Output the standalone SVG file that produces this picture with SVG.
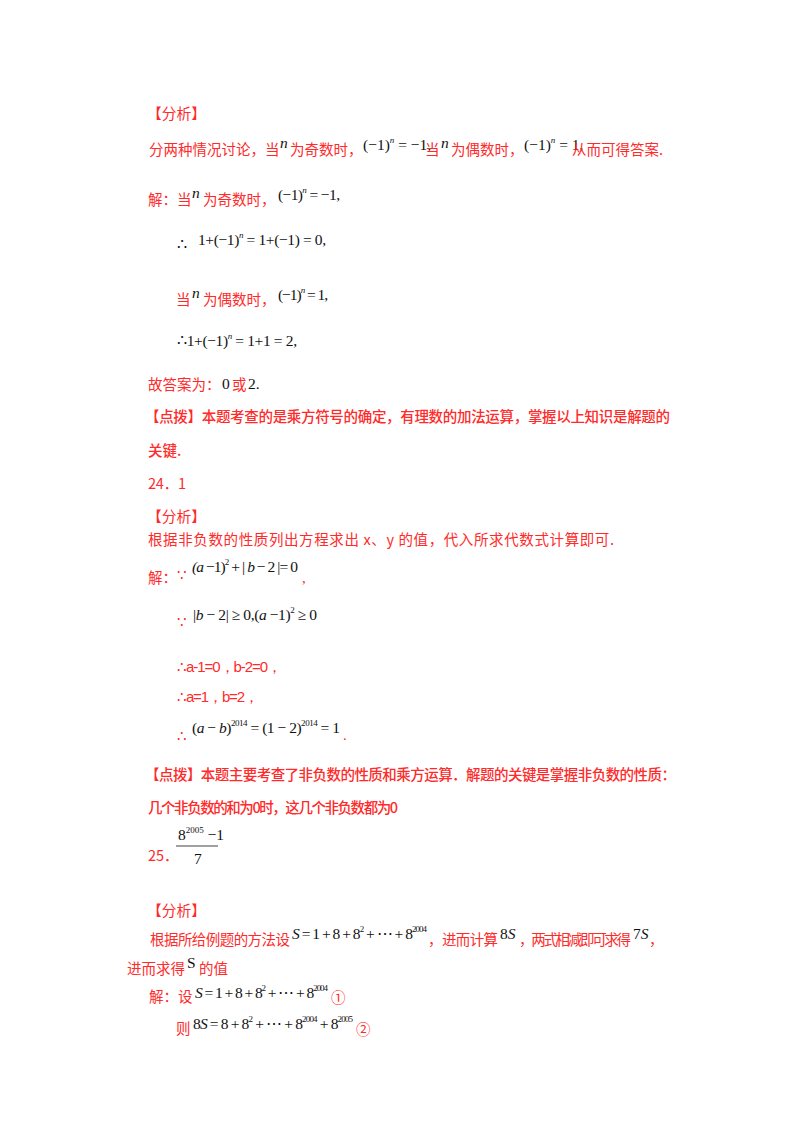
<svg xmlns="http://www.w3.org/2000/svg" width="800" height="1132" viewBox="0 0 800 1132">
<style>
.r{fill:#ff2a2a;font-family:"Noto Sans CJK SC","Noto Sans",sans-serif;font-size:14.5px}
.m{fill:#111;font-family:"Liberation Serif",serif;font-size:15.5px}
.i{font-style:italic}
.s{font-size:9px}
.mr{fill:#ff2a2a;font-family:"Liberation Serif",serif;font-size:15px}
.sr{fill:#ff2a2a;font-family:"Liberation Sans",sans-serif;font-size:15px}
.b{font-weight:500}
</style>
<rect width="800" height="1132" fill="#fff"/>
<text class="r" x="147" y="119" textLength="59" lengthAdjust="spacingAndGlyphs">【分析】</text>
<text class="r" x="149" y="155">分两种情况讨论，当</text>
<text class="m i" x="280" y="148" font-size="13">n</text>
<text class="r" x="290" y="155">为奇数时，</text>
<text class="m" x="363" y="150">(−1)<tspan class="s i" dy="-7">n</tspan><tspan dy="7"> = −1,</tspan></text>
<text class="r" x="425" y="155">当</text>
<text class="m i" x="441" y="148" font-size="13">n</text>
<text class="r" x="451" y="155">为偶数时，</text>
<text class="m" x="524" y="150">(−1)<tspan class="s i" dy="-7">n</tspan><tspan dy="7"> = 1,</tspan></text>
<text class="r" x="572" y="155">从而可得答案.</text>

<text class="r" x="148" y="205">解：当</text>
<text class="m i" x="192" y="198" font-size="13">n</text>
<text class="r" x="203" y="205">为奇数时，</text>
<text class="m" x="278" y="200" textLength="62">(−1)<tspan class="s i" dy="-7">n</tspan><tspan dy="7"> = −1,</tspan></text>

<text class="m" x="177" y="250">∴</text>
<text class="m" x="198" y="245" textLength="128">1+(−1)<tspan class="s i" dy="-7">n</tspan><tspan dy="7"> = 1+(−1) = 0,</tspan></text>

<text class="r" x="176" y="305">当</text>
<text class="m i" x="192" y="298" font-size="13">n</text>
<text class="r" x="203" y="305">为偶数时，</text>
<text class="m" x="278" y="300" textLength="50">(−1)<tspan class="s i" dy="-7">n</tspan><tspan dy="7"> = 1,</tspan></text>

<text class="m" x="177" y="346" textLength="120">∴1+(−1)<tspan class="s i" dy="-7">n</tspan><tspan dy="7"> = 1+1 = 2,</tspan></text>

<text class="r" x="148" y="390">故答案为：</text>
<text class="m" x="222" y="389">0</text>
<text class="r" x="232" y="390">或</text>
<text class="m" x="248" y="389">2.</text>

<text class="r b" x="145" y="422" textLength="525">【点拨】本题考查的是乘方符号的确定，有理数的加法运算，掌握以上知识是解题的</text>
<text class="r b" x="148" y="456">关键.</text>

<text class="r" x="148" y="489" textLength="38">24．1</text>
<text class="r" x="147" y="522" textLength="59" lengthAdjust="spacingAndGlyphs">【分析】</text>
<text class="r" x="148" y="545" textLength="466">根据非负数的性质列出方程求出 x、y 的值，代入所求代数式计算即可.</text>

<text class="r" x="148" y="583">解：</text>
<text class="sr" x="177" y="580">∵</text>
<text class="m" x="192" y="572" textLength="106"><tspan class="i">(a</tspan> −1)<tspan class="s" dy="-7">2</tspan><tspan dy="7"> + | </tspan><tspan class="i">b</tspan> − 2 |= 0</text>
<text class="mr" x="302" y="583">,</text>

<text class="sr" x="177" y="627">∵</text>
<text class="m" x="193" y="620" textLength="124">|<tspan class="i">b</tspan> − 2| ≥ 0,(<tspan class="i">a</tspan> −1)<tspan class="s" dy="-7">2</tspan><tspan dy="7"> ≥ 0</tspan></text>

<text class="sr" x="177" y="672" textLength="105">∴a-1=0，b-2=0，</text>
<text class="sr" x="177" y="702" textLength="82">∴a=1，b=2，</text>
<text class="sr" x="177" y="741">∴</text>
<text class="m" x="192" y="733" textLength="148">(<tspan class="i">a</tspan> − <tspan class="i">b</tspan>)<tspan class="s" dy="-7">2014</tspan><tspan dy="7"> = (1 − 2)</tspan><tspan class="s" dy="-7">2014</tspan><tspan dy="7"> = 1</tspan></text>
<text class="mr" x="343" y="740">.</text>

<text class="r b" x="145" y="780" textLength="531">【点拨】本题主要考查了非负数的性质和乘方运算．解题的关键是掌握非负数的性质：</text>
<text class="r b" x="148" y="813" textLength="250">几个非负数的和为0时，这几个非负数都为0</text>

<text class="m" x="178" y="840">8<tspan class="s" dy="-7">2005</tspan><tspan dy="7"> −1</tspan></text>
<line x1="176" y1="846" x2="218" y2="846" stroke="#111" stroke-width="0.8"/>
<text class="m" x="194" y="864">7</text>
<text class="r" x="148" y="861">25．</text>

<text class="r" x="147" y="916" textLength="59" lengthAdjust="spacingAndGlyphs">【分析】</text>
<text class="r" x="150" y="945" textLength="140">根据所给例题的方法设</text>
<text class="m" x="292" y="939" textLength="135"><tspan class="i">S</tspan> = 1 + 8 + 8<tspan class="s" dy="-7">2</tspan><tspan dy="7"> + ⋯ + 8</tspan><tspan class="s" dy="-7">2004</tspan></text>
<text class="r" x="428" y="945" textLength="70">，进而计算</text>
<text class="m" x="500" y="939">8<tspan class="i">S</tspan></text>
<text class="r" x="519" y="945" textLength="112">，两式相减即可求得</text>
<text class="m" x="633" y="939" font-size="13">7<tspan class="i">S</tspan></text>
<text class="r" x="649" y="945">，</text>
<text class="r" x="127" y="974">进而求得</text>
<text class="m" x="187" y="968" font-size="14">S</text>
<text class="r" x="199" y="974">的值</text>

<text class="r" x="149" y="1002">解：设</text>
<text class="m" x="195" y="998" textLength="133"><tspan class="i">S</tspan> = 1 + 8 + 8<tspan class="s" dy="-7">2</tspan><tspan dy="7"> + ⋯ + 8</tspan><tspan class="s" dy="-7">2004</tspan></text>
<text class="r" x="331" y="1003" font-size="15">①</text>
<text class="r" x="176" y="1034">则</text>
<text class="m" x="193" y="1029" textLength="160">8<tspan class="i">S</tspan> = 8 + 8<tspan class="s" dy="-7">2</tspan><tspan dy="7"> + ⋯ + 8</tspan><tspan class="s" dy="-7">2004</tspan><tspan dy="7"> + 8</tspan><tspan class="s" dy="-7">2005</tspan></text>
<text class="r" x="356" y="1035" font-size="15">②</text>
</svg>
